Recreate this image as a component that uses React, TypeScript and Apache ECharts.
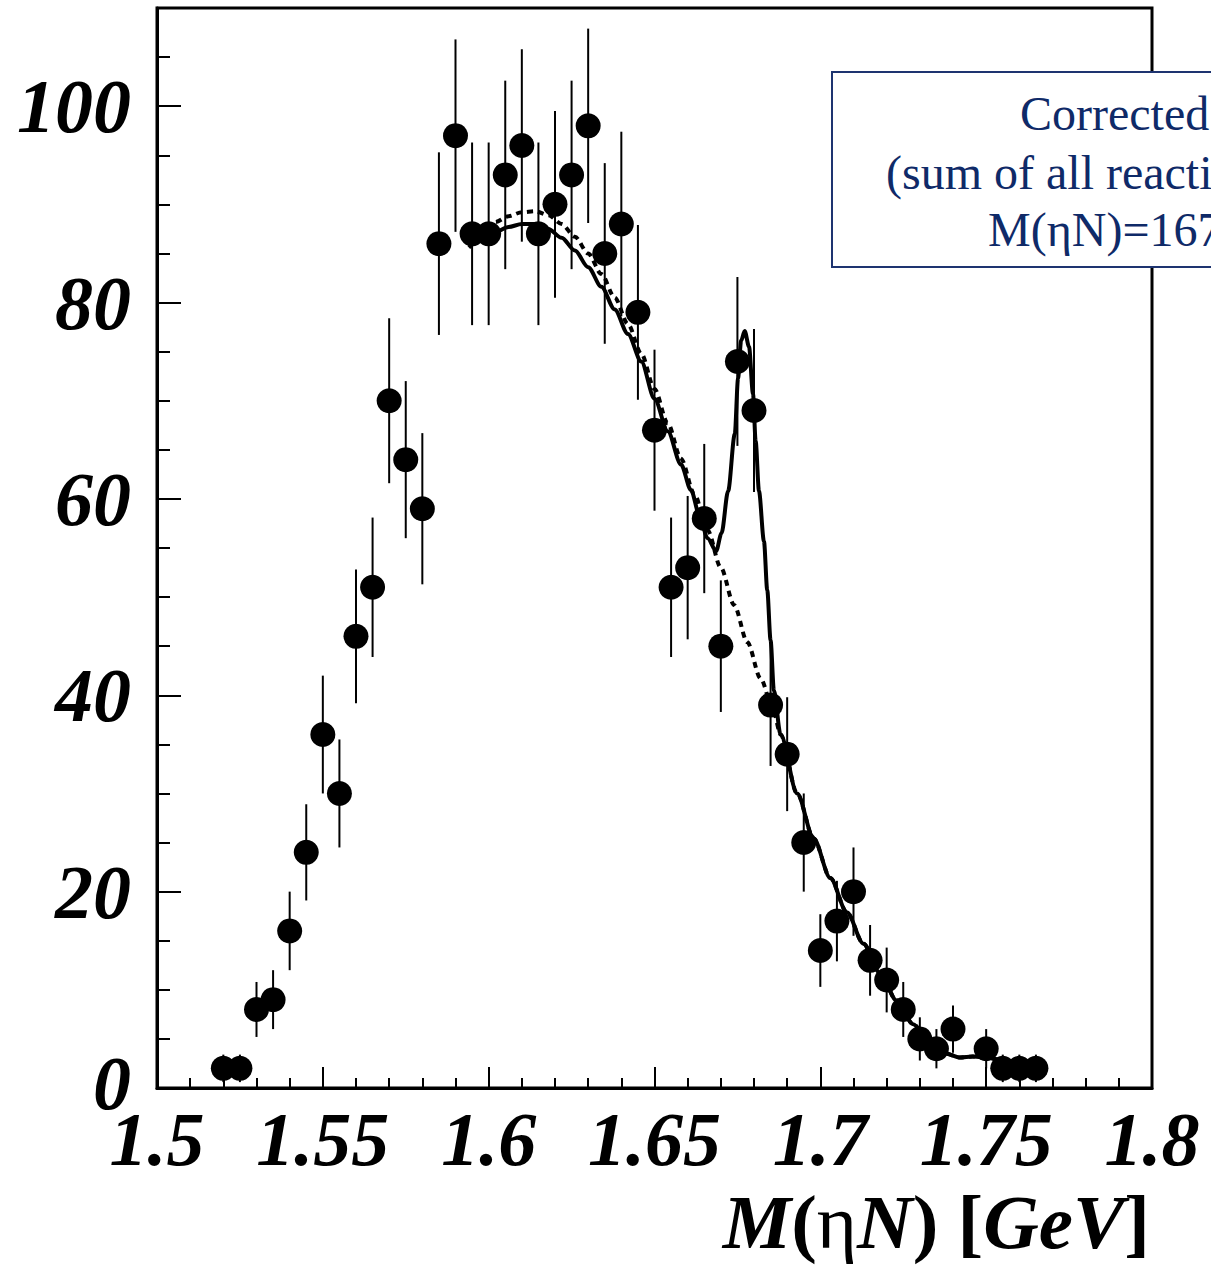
import React, { useEffect, useRef } from "react";
import * as echarts from "echarts";

// Bin centres (GeV) and corrected counts with statistical errors
const massBins = [
  1.52, 1.525, 1.53, 1.535, 1.54, 1.545, 1.55, 1.555, 1.56, 1.565, 1.57, 1.575,
  1.58, 1.585, 1.59, 1.595, 1.6, 1.605, 1.61, 1.615, 1.62, 1.625, 1.63, 1.635,
  1.64, 1.645, 1.65, 1.655, 1.66, 1.665, 1.67, 1.675, 1.68, 1.685, 1.69, 1.695,
  1.7, 1.705, 1.71, 1.715, 1.72, 1.725, 1.73, 1.735, 1.74, 1.75, 1.755, 1.76, 1.765,
];
const counts = [
  2, 2, 8, 9, 16, 24, 36, 30, 46, 51, 70, 64,
  59, 86, 97, 87, 87, 93, 96, 87, 90, 93, 98, 85,
  88, 79, 67, 51, 53, 58, 45, 74, 69, 39, 34, 25,
  14, 17, 20, 13, 11, 8, 5, 4, 6, 4, 2, 2, 2,
];
const errors = [
  1.4, 1.4, 2.8, 3.0, 4.0, 4.9, 6.0, 5.5, 6.8, 7.1, 8.4, 8.0,
  7.7, 9.3, 9.8, 9.3, 9.3, 9.6, 9.8, 9.3, 9.5, 9.6, 9.9, 9.2,
  9.4, 8.9, 8.2, 7.1, 7.3, 7.6, 6.7, 8.6, 8.3, 6.2, 5.8, 5.0,
  3.7, 4.1, 4.5, 3.6, 3.3, 2.8, 2.2, 2.0, 2.4, 2.0, 1.4, 1.4, 1.4,
];

// Full fit (solid curve, with narrow peak)
const fitX = [
  1.594, 1.598, 1.602, 1.606, 1.61, 1.614, 1.618, 1.622, 1.626, 1.63, 1.634, 1.638,
  1.642, 1.646, 1.65, 1.654, 1.658, 1.661, 1.6635, 1.666, 1.6686, 1.6702,
  1.6722, 1.6742, 1.6752, 1.6761, 1.6772, 1.6785, 1.6797, 1.6805, 1.6815, 1.683,
  1.684, 1.685, 1.686, 1.688, 1.693, 1.698, 1.703, 1.708, 1.713, 1.718, 1.723,
  1.728, 1.733, 1.738, 1.742, 1.746, 1.75, 1.755, 1.76,
];
const fitY = [
  85.6, 86.5, 87.2, 87.7, 88.0, 88.0, 87.5, 86.6, 85.3, 83.6, 81.6, 79.3,
  76.8, 74.0, 70.2, 66.9, 63.5, 60.9, 58.4, 56.0, 54.7, 56.5,
  60.8, 66.6, 72.3, 76.1, 77.1, 75.5, 70.7, 65.9, 60.8, 55.7,
  50.7, 45.6, 40.5, 36.0, 30.0, 25.4, 21.4, 17.9, 14.7, 11.7, 8.9,
  6.5, 4.6, 3.5, 3.1, 3.2, 3.1, 2.8, 2.5,
];

// Background only (dotted curve)
const bgX = [
  1.594, 1.598, 1.602, 1.606, 1.61, 1.614, 1.618, 1.622, 1.626, 1.63, 1.634, 1.638,
  1.642, 1.646, 1.65, 1.654, 1.658, 1.662, 1.666, 1.67, 1.674, 1.678, 1.682, 1.686,
  1.688, 1.693, 1.698, 1.703, 1.708, 1.713, 1.718, 1.723, 1.728, 1.733, 1.738,
  1.742, 1.746, 1.75, 1.755, 1.76,
];
const bgY = [
  86.4, 87.4, 88.2, 88.8, 89.2, 89.3, 88.9, 88.0, 86.7, 85.0, 82.9, 80.5,
  77.8, 74.8, 71.2, 67.7, 64.1, 60.5, 56.8, 53.0, 49.2, 45.4, 41.7, 38.2,
  36.0, 30.0, 25.4, 21.4, 17.9, 14.7, 11.7, 8.9, 6.5, 4.6, 3.5,
  3.1, 3.2, 3.1, 2.8, 2.5,
];

const legendLines = ["Corrected", "(sum of all reacti", "M(\u03b7N)=167"];

const SERIF = '"Liberation Serif", "Times New Roman", serif';
const NAVY = "#0f2a68";

export default function App() {
  const ref = useRef<HTMLDivElement>(null);

  useEffect(() => {
    if (!ref.current) return;
    const chart = echarts.init(ref.current, null, { renderer: "svg" });

    const tickLabelStyle = {
      fontFamily: SERIF,
      fontSize: 76,
      fontWeight: "bold" as const,
      fontStyle: "italic" as const,
      color: "#000",
    };

    const option: any = {
      animation: false,
      backgroundColor: "#fff",
      grid: {
        left: 157,
        top: 8,
        width: 995,
        height: 1080,
        show: true,
        borderColor: "#000",
        borderWidth: 3,
        backgroundColor: "transparent",
      },
      xAxis: [
        {
          type: "value",
          position: "bottom",
          min: 1.5,
          max: 1.8,
          interval: 0.05,
          axisLine: { show: true, onZero: false, lineStyle: { color: "#000", width: 3 } },
          axisTick: { show: true, inside: true, length: 21, lineStyle: { color: "#000", width: 2 } },
          axisLabel: { ...tickLabelStyle, margin: 13 },
          splitLine: { show: false },
        },
        {
          type: "value",
          position: "bottom",
          min: 1.5,
          max: 1.8,
          interval: 0.01,
          axisLine: { show: false, onZero: false },
          axisTick: { show: true, inside: true, length: 10, lineStyle: { color: "#000", width: 2 } },
          axisLabel: { show: false },
          splitLine: { show: false },
        },
      ],
      yAxis: [
        {
          type: "value",
          position: "left",
          min: 0,
          max: 110,
          interval: 20,
          axisLine: { show: true, onZero: false, lineStyle: { color: "#000", width: 3 } },
          axisTick: { show: true, inside: true, length: 24, lineStyle: { color: "#000", width: 2 } },
          axisLabel: {
            ...tickLabelStyle,
            margin: 26,
            formatter: (v: number) => (v > 100 ? "" : v === 0 ? "{z|0}" : String(v)),
            rich: {
              z: { ...tickLabelStyle, padding: [0, 0, 10, 0] },
            },
          },
          splitLine: { show: false },
        },
        {
          type: "value",
          position: "left",
          min: 0,
          max: 110,
          interval: 5,
          axisLine: { show: false, onZero: false },
          axisTick: { show: true, inside: true, length: 13, lineStyle: { color: "#000", width: 2 } },
          axisLabel: { show: false },
          splitLine: { show: false },
        },
      ],
      series: [
        {
          type: "line",
          name: "background",
          xAxisIndex: 0,
          yAxisIndex: 0,
          data: bgX.map((x, i) => [x, bgY[i]]),
          showSymbol: false,
          smooth: 0.3,
          smoothMonotone: "x",
          lineStyle: { color: "#000", width: 4, type: [6, 5], opacity: 1 },
          z: 3,
        },
        {
          type: "line",
          name: "fit",
          xAxisIndex: 0,
          yAxisIndex: 0,
          data: fitX.map((x, i) => [x, fitY[i]]),
          showSymbol: false,
          smooth: 0.3,
          smoothMonotone: "x",
          lineStyle: { color: "#000", width: 4, opacity: 1 },
          z: 4,
        },
        {
          type: "custom",
          name: "errors",
          xAxisIndex: 0,
          yAxisIndex: 0,
          data: massBins.map((x, i) => [x, counts[i], errors[i]]),
          encode: { x: 0, y: 1 },
          renderItem: (_params: any, api: any) => {
            const x = api.value(0);
            const y = api.value(1);
            const e = api.value(2);
            const p1 = api.coord([x, y - e]);
            const p2 = api.coord([x, y + e]);
            return {
              type: "line",
              shape: { x1: p1[0], y1: p1[1], x2: p2[0], y2: p2[1] },
              style: { stroke: "#000", lineWidth: 2 },
            };
          },
          z: 5,
        },
        {
          type: "scatter",
          name: "data",
          xAxisIndex: 0,
          yAxisIndex: 0,
          data: massBins.map((x, i) => [x, counts[i]]),
          symbol: "circle",
          symbolSize: 25,
          itemStyle: { color: "#000", opacity: 1 },
          z: 6,
        },
      ],
      graphic: [
        {
          type: "rect",
          shape: { x: 832, y: 72, width: 420, height: 195 },
          style: { fill: "#fff", stroke: "#1e3470", lineWidth: 2 },
          z: 100,
        },
        {
          type: "text",
          x: 1020,
          y: 113,
          style: { text: legendLines[0], fontFamily: SERIF, fontSize: 48, fill: NAVY, verticalAlign: "middle", align: "left" },
          z: 101,
        },
        {
          type: "text",
          x: 886,
          y: 172,
          style: { text: legendLines[1], fontFamily: SERIF, fontSize: 48, fill: NAVY, verticalAlign: "middle", align: "left" },
          z: 101,
        },
        {
          type: "text",
          x: 988,
          y: 229,
          style: { text: legendLines[2], fontFamily: SERIF, fontSize: 48, fill: NAVY, verticalAlign: "middle", align: "left" },
          z: 101,
        },
        {
          type: "text",
          x: 1150,
          y: 1222,
          style: {
            text: "{a|M}{u|(}{b|\u03b7}{a|N}{u|) [}{a|GeV}{u|]}",
            align: "right",
            verticalAlign: "middle",
            rich: {
              a: { fontFamily: SERIF, fontSize: 77, fontWeight: "bold", fontStyle: "italic", fill: "#000" },
              u: { fontFamily: SERIF, fontSize: 77, fontWeight: "bold", fontStyle: "normal", fill: "#000" },
              b: { fontFamily: SERIF, fontSize: 77, fontWeight: "normal", fontStyle: "normal", fill: "#000" },
            },
          },
          z: 101,
        },
      ],
    };

    chart.setOption(option);
    return () => chart.dispose();
  }, []);

  return (
    <div
      ref={ref}
      style={{ position: "fixed", left: 0, top: 0, width: 1211, height: 1275, background: "#fff" }}
    />
  );
}
